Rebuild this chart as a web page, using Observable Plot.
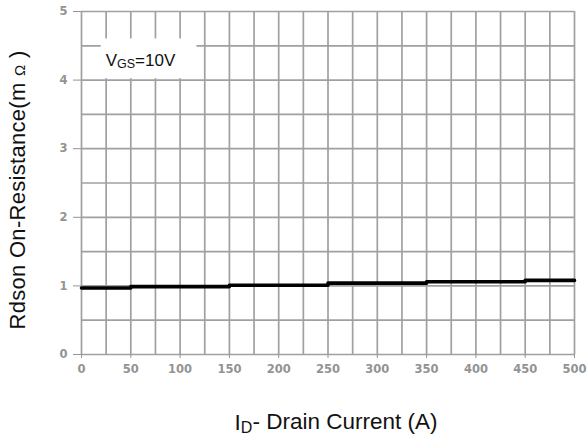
<!DOCTYPE html>
<html>
<head>
<meta charset="utf-8">
<script src="https://cdn.jsdelivr.net/npm/d3@7"></script>
<script src="https://cdn.jsdelivr.net/npm/@observablehq/plot@0.6"></script>
<style>
  html, body { margin: 0; padding: 0; background: #fff; }
  #chart svg { display: block; }
</style>
</head>
<body>
<div id="chart"></div>
<script>
// On-resistance vs drain current at VGS = 10 V (stepped trace)
const currentA = [0, 50, 150, 250, 350, 450, 500];
const rdsonMilliOhm = [0.97, 0.99, 1.01, 1.04, 1.06, 1.08, 1.08];

const xTicks = [0, 50, 100, 150, 200, 250, 300, 350, 400, 450, 500];
const yTicks = [0, 1, 2, 3, 4, 5];
const xGrid = d3.range(0, 501, 25);
const yGrid = d3.range(0, 5.01, 0.5);

// Condition label box (data units)
const labelBox = [{x1: 20, x2: 117, y1: 4.02, y2: 4.6}];
const labelPos = [{x: 24.5, y: 4.28}];

const trace = currentA.map((x, i) => ({x, y: rdsonMilliOhm[i]}));

const gridColor = "#a0a0a0";

const chart = Plot.plot({
  width: 588,
  height: 441,
  marginLeft: 81,
  marginRight: 14,
  marginTop: 11,
  marginBottom: 87,
  style: {
    fontFamily: "'DejaVu Sans', sans-serif",
    fontWeight: "bold",
    fontSize: "11px",
    color: "#939393",
    background: "#fff"
  },
  x: {domain: [0, 500]},
  y: {domain: [0, 5]},
  marks: [
    Plot.ruleX(xGrid, {stroke: gridColor, strokeWidth: 1.7}),
    Plot.ruleY(yGrid, {stroke: gridColor, strokeWidth: 1.7}),
    Plot.rect(labelBox, {x1: "x1", x2: "x2", y1: "y1", y2: "y2", fill: "white"}),
    Plot.text(labelPos, {
      x: "x", y: "y", text: () => "V", textAnchor: "start",
      fill: "#111", fontSize: 17, fontWeight: "normal",
      fontFamily: "'Liberation Sans', Arial, sans-serif"
    }),
    Plot.axisX({ticks: xTicks, tickSize: 4, tickPadding: 6, label: null, fontSize: 11.5, letterSpacing: 1.2, tickFormat: d => String(d)}),
    Plot.axisY({ticks: yTicks, tickSize: 8, tickPadding: 6, label: null, fontSize: 11.5, tickFormat: d => String(d)}),
    Plot.line(trace, {x: "x", y: "y", curve: "step-after", stroke: "#000", strokeWidth: 3.6})
  ]
});

document.getElementById("chart").appendChild(chart);

const svg = d3.select(chart);

// Subscripted condition label: V_GS=10V
const lbl = svg.select('g[aria-label="text"] text');
lbl.text(null);
lbl.append("tspan").text("V");
lbl.append("tspan").attr("font-size", 12.5).attr("dy", "0.15em").text("GS");
lbl.append("tspan").attr("dy", "-0.15em").text("=10V");

const titleFont = "'Liberation Sans', Arial, sans-serif";

// X axis title with subscript D
const xt = svg.append("text")
  .attr("x", 336)
  .attr("y", 430)
  .attr("text-anchor", "middle")
  .attr("font-family", titleFont)
  .attr("font-size", 22.5)
  .attr("font-weight", "normal")
  .attr("fill", "#111");
xt.append("tspan").text("I");
xt.append("tspan").attr("font-size", 16).attr("dy", "0.2em").text("D");
xt.append("tspan").attr("dy", "-0.2em").text("- Drain Current (A)");

// Y axis title
const yt = svg.append("text")
  .attr("transform", "translate(25,190) rotate(-90)")
  .attr("text-anchor", "middle")
  .attr("font-family", titleFont)
  .attr("font-size", 22)
  .attr("letter-spacing", 0.3)
  .attr("font-weight", "normal")
  .attr("fill", "#111");
yt.append("tspan").text("Rdson On-Resistance(m ");
yt.append("tspan").attr("font-size", 15).text("Ω");
yt.append("tspan").text(" )");
</script>
</body>
</html>
